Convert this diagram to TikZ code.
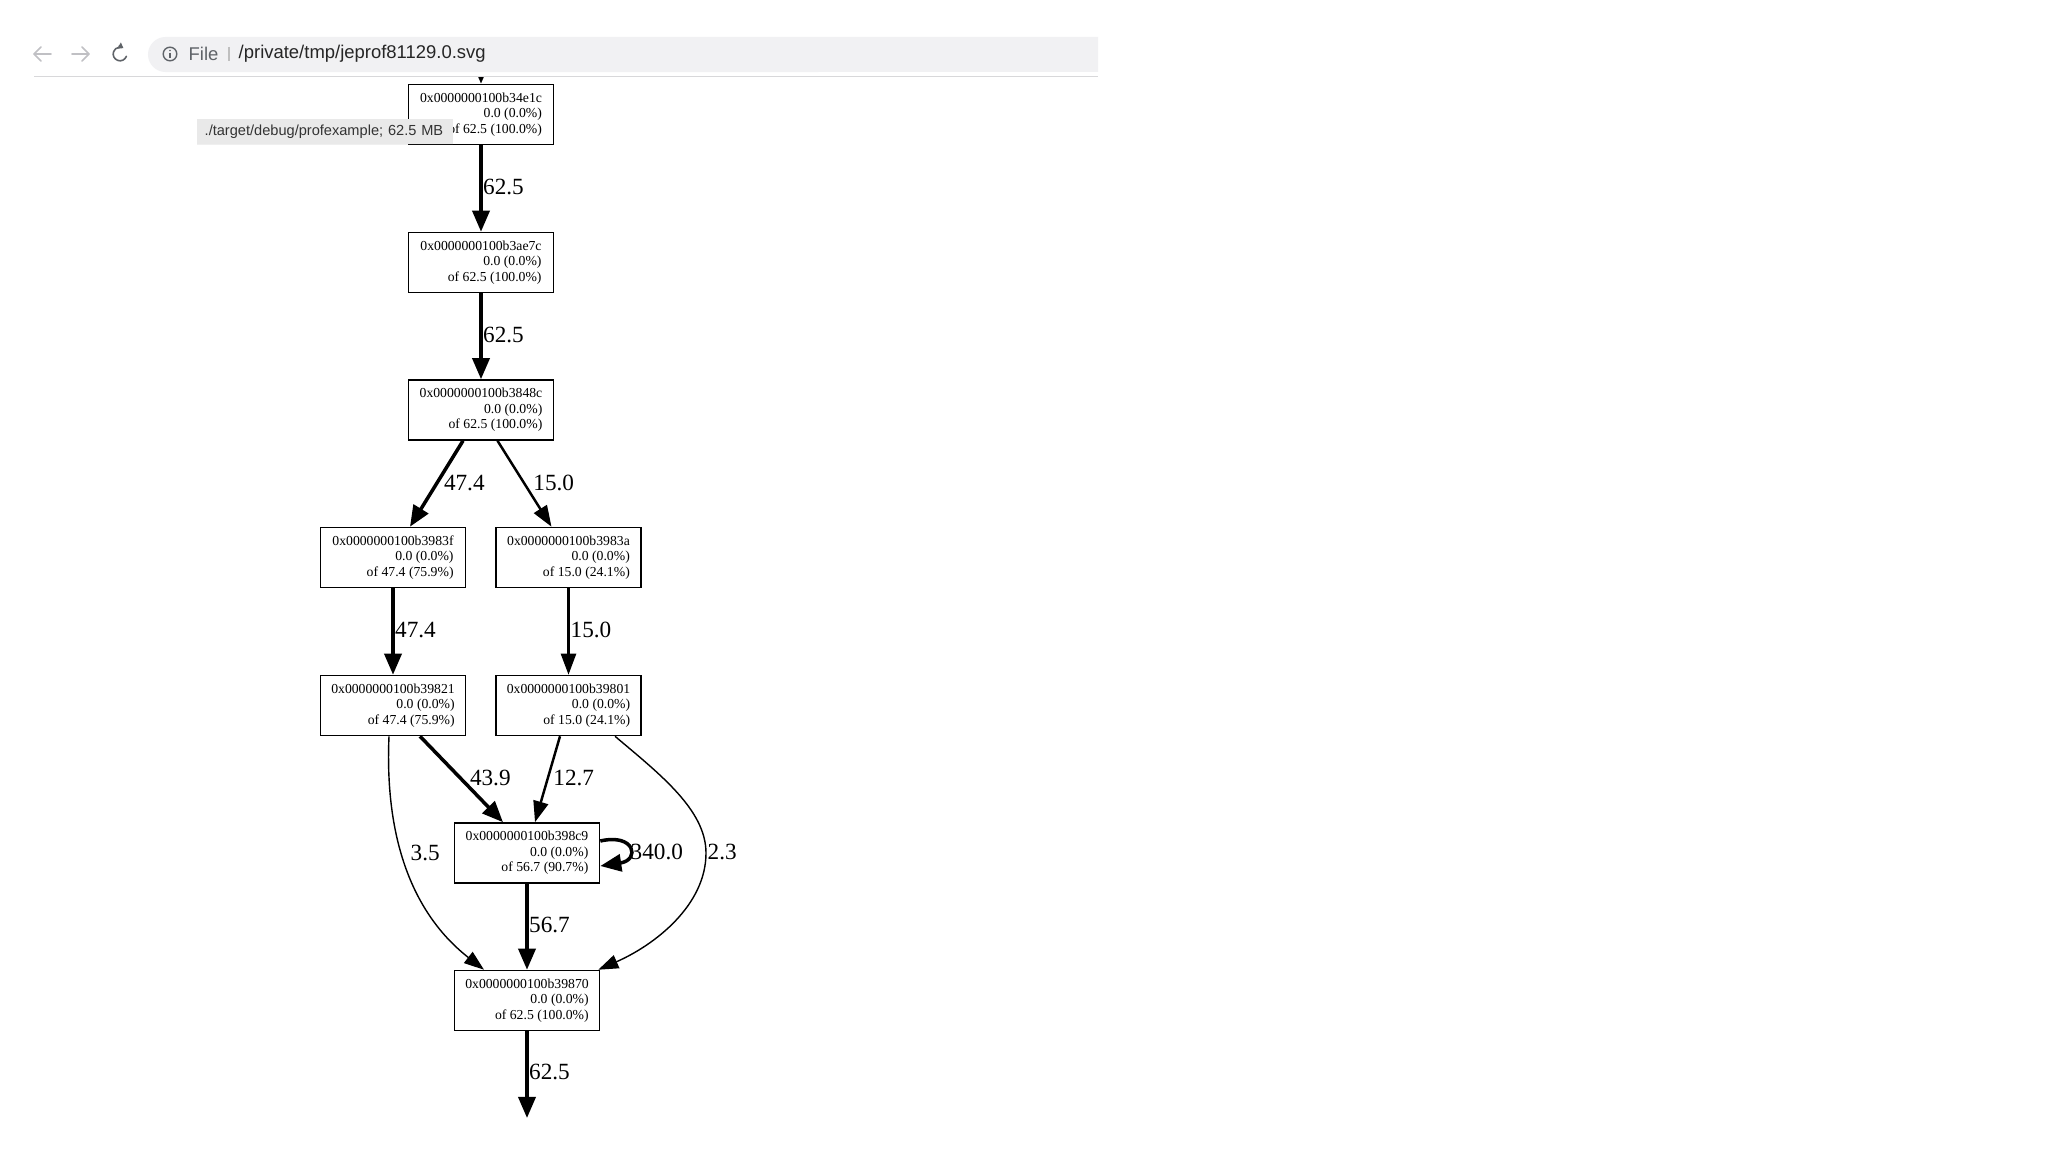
\documentclass[tikz,border=0pt]{standalone}
\usepackage{fontspec}
\setmainfont{Liberation Serif}
\newfontfamily\uifont{Liberation Sans}
\usepackage{xcolor}
\usetikzlibrary{arrows.meta,positioning,calc,shadows}

\definecolor{barfill}{HTML}{F1F1F3}
\definecolor{uigray}{HTML}{5F6368}
\definecolor{navgray}{HTML}{C0C0C4}
\definecolor{tipfill}{HTML}{E9E9E9}
\definecolor{rulegray}{HTML}{D8D8DA}

\begin{document}
\begin{tikzpicture}[
  x=0.01cm, y=-0.01cm,
  fnode/.style={draw, fill=white, rectangle, line width=0.43pt,
                minimum width=1.45cm, minimum height=0.6cm, inner sep=0pt,
                align=right, font=\fontsize{3.9}{4.4}\selectfont},
  elabel/.style={anchor=west, inner sep=0pt, font=\fontsize{6.6}{8}\selectfont},
  % pen width follows the edge weight, as in the profile graph
  heavy/.style={-{Triangle[length=0.21cm, width=0.17cm]}, line width=1pt},
  medium/.style={-{Triangle[length=0.21cm, width=0.15cm]}, line width=0.7pt},
  light/.style={-{Triangle[length=0.2cm, width=0.14cm]}, line width=0.4pt},
  uitext/.style={anchor=west, inner sep=0pt, font=\uifont\fontsize{5.25}{6}\selectfont},
  tipbox/.style={fill=tipfill, anchor=west, inner xsep=0.08cm, inner ysep=0pt,
                 minimum height=0.25cm, text width=2.4cm, align=left,
                 font=\uifont\fontsize{4.15}{5}\selectfont, text=black!80,
                 drop shadow={shadow xshift=0pt, shadow yshift=-0.4pt, opacity=0.12}},
  navicon/.style={line width=0.45pt, line cap=round, line join=round},
]
\useasboundingbox (0,0) rectangle (2048,1152);
\fill[white] (0,0) rectangle (2048,1152);

%%---- Call graph nodes ---------------------------------------------
\node[fnode] (N34e1c) at (481,114.5) {0x0000000100b34e1c\\0.0 (0.0\%)\\of 62.5 (100.0\%)};
\node[fnode] (N3ae7c) at (481,262.5) {0x0000000100b3ae7c\\0.0 (0.0\%)\\of 62.5 (100.0\%)};
\node[fnode] (N3848c) at (481,410) {0x0000000100b3848c\\0.0 (0.0\%)\\of 62.5 (100.0\%)};
\node[fnode] (N3983f) at (393,557.5) {0x0000000100b3983f\\0.0 (0.0\%)\\of 47.4 (75.9\%)};
\node[fnode] (N3983a) at (568.5,557.5) {0x0000000100b3983a\\0.0 (0.0\%)\\of 15.0 (24.1\%)};
\node[fnode] (N39821) at (393,705.5) {0x0000000100b39821\\0.0 (0.0\%)\\of 47.4 (75.9\%)};
\node[fnode] (N39801) at (568.5,705.5) {0x0000000100b39801\\0.0 (0.0\%)\\of 15.0 (24.1\%)};
\node[fnode] (N398c9) at (527,853) {0x0000000100b398c9\\0.0 (0.0\%)\\of 56.7 (90.7\%)};
\node[fnode] (N39870) at (527,1000.5) {0x0000000100b39870\\0.0 (0.0\%)\\of 62.5 (100.0\%)};

\coordinate (caller) at (481,40);
\coordinate (callee) at (527,1118);
\coordinate (bend79) at (706,853);

%%---- Edges ----------------------------------------------------------
\draw[heavy] (caller) -- (N34e1c.north);

\draw[heavy] (N34e1c) -- (N3ae7c);
\node[elabel] (L1) at (482.5,187) {62.5};

\draw[heavy] (N3ae7c) -- (N3848c);
\node[elabel] (L2) at (482.5,334.5) {62.5};

\draw[heavy] ($(N3848c.south)+(-18,0)$) -- ($(N3983f.north)+(17,0)$);
\node[elabel] (L3) at (443.3,483) {47.4};

\draw[medium] ($(N3848c.south)+(16.5,0)$) -- ($(N3983a.north)+(-17,0)$);
\node[elabel] (L4) at (532.7,483) {15.0};

\draw[heavy] (N3983f) -- (N39821);
\node[elabel] (L5) at (394.5,630) {47.4};

\draw[medium] (N3983a) -- (N39801);
\node[elabel] (L6) at (570,630) {15.0};

\draw[heavy] ($(N39821.south)+(27,0)$) -- ($(N398c9.north)+(-24,0)$);
\node[elabel] (L7) at (469.3,778) {43.9};

\draw[medium] ($(N39801.south)+(-8.5,0)$) -- ($(N398c9.north)+(8,0)$);
\node[elabel] (L8) at (552.7,778) {12.7};

% long way round, left side
\draw[light] ($(N39821.south)+(-4,0)$)
  .. controls +(-5,115) and +(-64,-50) .. ($(N39870.north)+(-43,0)$);
\node[elabel] (L9) at (410,853) {3.5};

% recursion on 398c9
\draw[heavy] ($(N398c9.east)+(0,-12)$)
  .. controls +(35,-8) and +(40,-6) .. ($(N398c9.east)+(0,13)$);
\node[elabel] (L10) at (630,852) {340.0};

% long way round, right side
\draw[light] ($(N39801.south)+(46.5,0)$)
  .. controls +(45,38) and +(0,-43) .. (bend79)
  .. controls +(0,52) and +(57,-25) .. ($(N39870.north east)+(-2,0)$);
\node[elabel] (L11) at (707,852) {2.3};

\draw[heavy] (N398c9) -- (N39870);
\node[elabel] (L12) at (528.5,925) {56.7};

\draw[heavy] (N39870.south) -- (callee);
\node[elabel] (L13) at (528.5,1072) {62.5};

%%---- Tooltip --------------------------------------------------------
\node[tipbox] (Tip) at (196,131.5) {./target/debug/profexample; 62.5 MB};

%%---- Browser chrome -------------------------------------------------
\fill[white] (0,0) rectangle (2048,76);
\draw[rulegray, line width=0.3pt] (34,76.5) -- (1098,76.5);
\fill[barfill] (1098,37) -- (165.5,37)
  arc[start angle=90, end angle=270, radius=0.175cm] -- (1098,72) -- cycle;

% back / forward / reload
\draw[navicon, navgray] (51,54) -- (34,54) (41,47) -- (34,54) -- (41,61);
\draw[navicon, navgray] (72,54) -- (89,54) (82,47) -- (89,54) -- (82,61);
\draw[navicon, uigray, -{Triangle[length=0.05cm, width=0.07cm]}]
  ($(120,54)+(-20:0.068cm)$) arc[start angle=-20, end angle=-300, radius=0.068cm];

% site info icon
\draw[uigray, line width=0.4pt] (170,54) circle[radius=0.068cm];
\fill[uigray] (170,50.5) circle[radius=0.009cm];
\draw[uigray, line width=0.45pt] (170,53) -- (170,58.5);

\node[uitext, text=uigray] (File) at (188,54) {File};
\draw[black!25, line width=0.3pt] (229,47) -- (229,61);
\node[uitext, text=black!85] (Path) at (238,54) {/private/tmp/jeprof81129.0.svg};

\end{tikzpicture}
\end{document}
